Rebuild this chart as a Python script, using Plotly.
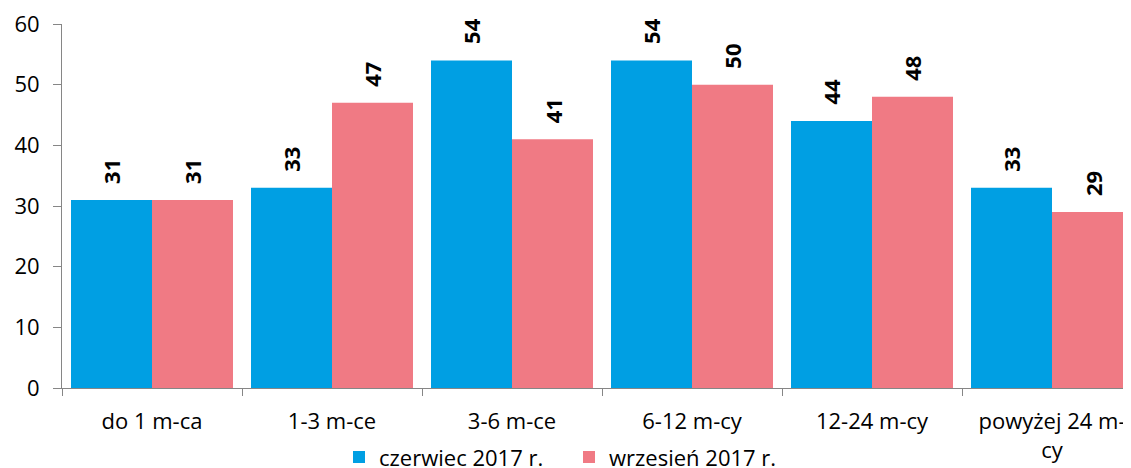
import plotly.graph_objects as go

categories = ["do 1 m-ca", "1-3 m-ce", "3-6 m-ce", "6-12 m-cy", "12-24 m-cy", "powyżej 24 m-<br>cy"]
series_names = ["czerwiec 2017 r.", "wrzesień 2017 r."]
czerwiec = [31, 33, 54, 54, 44, 33]
wrzesien = [31, 47, 41, 50, 48, 29]
y_ticks = [0, 10, 20, 30, 40, 50, 60]

colors = ["#009FE3", "#F07A84"]
legend_ids = ["legend", "legend2"]
FONT = "Open Sans"
FS = 22

fig = go.Figure()
for name, vals, col, lg in zip(series_names, [czerwiec, wrzesien], colors, legend_ids):
    fig.add_trace(go.Bar(
        x=categories, y=vals, name=name, legend=lg,
        marker=dict(color=col, line=dict(width=0)),
    ))

offset = 0.225 * 180
annotations = []
for k, vals in enumerate([czerwiec, wrzesien]):
    shift = -offset if k == 0 else offset
    for c, v in zip(categories, vals):
        annotations.append(dict(
            x=c, y=v, xref="x", yref="y", text="<b>%d</b>" % v,
            showarrow=False, textangle=-90, yanchor="bottom", xanchor="center",
            xshift=shift, yshift=14,
            font=dict(family=FONT, size=22, color="#000000"),
        ))

leg_common = dict(orientation="h", y=-0.19, yanchor="middle",
                  font=dict(family=FONT, size=FS), itemwidth=30,
                  bgcolor="rgba(0,0,0,0)")

# page body has an 8px margin, so the figure is offset by (8, 8)
fig.update_layout(
    width=1123, height=460,
    margin=dict(l=54, r=0, t=16, b=80, autoexpand=False),
    paper_bgcolor="white", plot_bgcolor="white",
    barmode="group", bargap=0.1, bargroupgap=0,
    font=dict(family=FONT, size=FS, color="#000000"),
    showlegend=True,
    legend=dict(x=(339 - 62) / 1069, xanchor="left", **leg_common),
    legend2=dict(x=(569 - 62) / 1069, xanchor="left", **leg_common),
    annotations=annotations,
)
fig.update_xaxes(
    range=[-0.5, -0.5 + (1131 - 62) / 180.0],
    showline=True, linecolor="#868686", linewidth=1,
    ticks="outside", tickson="boundaries", ticklen=7, tickcolor="#868686",
    showgrid=False, zeroline=False, automargin=False,
    ticklabelstandoff=14, ticklabeloverflow="allow",
    tickfont=dict(family=FONT, size=FS),
)
fig.update_yaxes(
    range=[0, 60], tickvals=y_ticks,
    showline=True, linecolor="#868686", linewidth=1,
    ticks="outside", ticklen=8, tickcolor="#868686",
    showgrid=False, zeroline=False, automargin=False,
    ticklabelstandoff=9, ticklabeloverflow="allow",
    tickfont=dict(family=FONT, size=FS),
)
fig.write_html("out.html")
